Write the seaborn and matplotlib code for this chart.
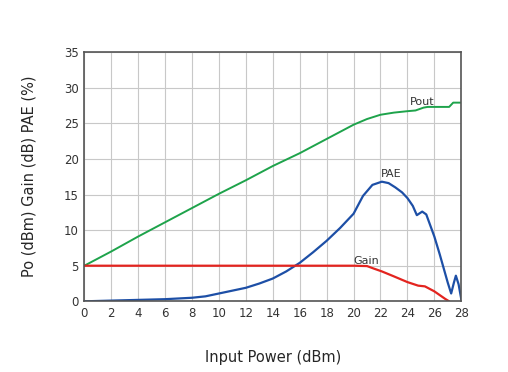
import matplotlib
matplotlib.use("Agg")
import matplotlib.pyplot as plt
import seaborn as sns
import pandas as pd

# Pout (dBm) vs input power
pout_x = [0, 2, 4, 6, 8, 10, 12, 14, 16, 18, 20, 21, 22, 23, 24, 24.6, 25.2, 25.5, 26, 26.8, 27.1, 27.4, 28]
pout_y = [5, 7, 9.1, 11.1, 13.1, 15.1, 17.0, 19.0, 20.8, 22.8, 24.8, 25.6, 26.2, 26.5, 26.7, 26.8, 27.2, 27.3, 27.3, 27.3, 27.3, 27.9, 27.9]

# PAE (%)
pae_x = [0, 2, 4, 6, 8, 9, 10, 11, 12, 13, 14, 15, 16, 17, 18, 19, 20, 20.7, 21.4, 22.1, 22.6, 23.1, 23.6, 24, 24.4, 24.7, 25.1, 25.4,
         26, 26.4, 26.7, 27, 27.25, 27.45, 27.6, 27.8, 28]
pae_y = [0, 0.1, 0.2, 0.3, 0.5, 0.7, 1.1, 1.5, 1.9, 2.5, 3.2, 4.2, 5.4, 6.9, 8.5, 10.3, 12.3, 14.8, 16.35, 16.8, 16.6, 16.0, 15.3, 14.5, 13.4, 12.1, 12.6, 12.2,
         9.1, 6.6, 4.6, 2.6, 1.1, 2.6, 3.6, 2.4, 0.3]

# Gain (dB)
gain_x = [0, 4, 8, 12, 16, 20, 21, 21.5, 22.1, 23, 24, 24.8, 25.3, 26, 26.8, 27.1]
gain_y = [5, 5, 5, 5, 5, 5, 4.95, 4.6, 4.2, 3.5, 2.7, 2.2, 2.1, 1.4, 0.35, 0.0]

x_ticks = list(range(0, 29, 2))
y_ticks = list(range(0, 36, 5))

sns.set_style("whitegrid", {"grid.color": "#c8c8c8", "axes.edgecolor": "#555555"})
plt.rcParams['font.family'] = ['DejaVu Sans']

fig = plt.figure(figsize=(5.08, 3.72), dpi=100)
ax = fig.add_axes([0.166, 0.19, 0.742, 0.67])

sns.lineplot(data=pd.DataFrame({"x": pout_x, "y": pout_y}), x="x", y="y", color="#1ea34b", lw=1.4, ax=ax, sort=False)
sns.lineplot(data=pd.DataFrame({"x": pae_x, "y": pae_y}), x="x", y="y", color="#1d4fa6", lw=1.6, ax=ax, sort=False)
sns.lineplot(data=pd.DataFrame({"x": gain_x, "y": gain_y}), x="x", y="y", color="#e3241f", lw=1.6, ax=ax, sort=False)

ax.text(24.2, 27.6, "Pout", fontsize=8, color="#333333")
ax.text(22.0, 17.4, "PAE", fontsize=8, color="#333333")
ax.text(20.0, 5.3, "Gain", fontsize=8, color="#333333")

ax.set_xlim(0, 28)
ax.set_ylim(0, 35)
ax.set_xticks(x_ticks)
ax.set_yticks(y_ticks)
ax.tick_params(labelsize=8.5, colors="#333333", length=0, pad=4)
ax.set_xlabel("Input Power (dBm)", fontsize=10.5, labelpad=22)
ax.set_ylabel("Po (dBm) Gain (dB) PAE (%)", fontsize=10.5, labelpad=20)
for s in ax.spines.values():
    s.set_linewidth(1.2)

fig.savefig("out.png", dpi=100)
